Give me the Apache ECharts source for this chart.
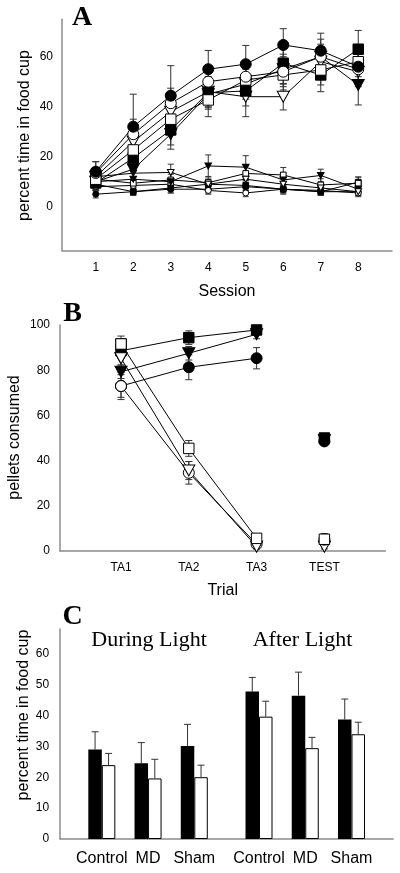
<!DOCTYPE html>
<html><head><meta charset="utf-8">
<script src="https://cdn.jsdelivr.net/npm/echarts@6/dist/echarts.min.js"></script>
<style>html,body{margin:0;padding:0;background:#fff}#c{width:400px;height:873px}</style>
</head><body><div id="c"></div>
<script>
// ---------- Panel A data ----------
const sessions = [1, 2, 3, 4, 5, 6, 7, 8];
const sessionLabels = ['1', '2', '3', '4', '5', '6', '7', '8'];
const aYTicks = [0, 20, 40, 60];
// acquiring groups (large symbols)
const accFilledCircle = [14, 32, 44.4, 55, 57, 64.7, 62.4, 56];
const accFilledCircleErr = [4, 13, 12, 7.5, 7.5, 6.5, 7, 6];
const accOpenCircle = [13.5, 29, 41.4, 50, 52, 54, 60, 55];
const accOpenCircleErr = [4.5, 6, 6, 6, 6, 6, 5, 6];
const accFilledSquare = [9.5, 19.5, 30.7, 45.6, 46.3, 57.4, 52.7, 63];
const accFilledSquareErr = [3, 5, 6, 6, 6, 6, 6.7, 7.5];
const accOpenSquare = [11, 22.7, 35, 42.7, 50.7, 52.7, 54.7, 58];
const accOpenSquareErr = [3, 5, 6, 6.7, 6, 6, 6, 6];
const accFilledTriangle = [10, 15, 29, 45, 49, 55, 60, 48.7];
const accFilledTriangleErr = [3, 4, 6, 6, 6, 6, 7, 8];
const accOpenTriangle = [12, 26, 38, 46, 44, 44, 58, 54];
const accOpenTriangleErr = [3, 5, 6, 6, 8, 5.3, 6, 6];
// non-acquiring groups (small symbols)
const flatFilledCircle = [5, 6, 7, 7, 8, 7, 6, 6];
const flatFilledCircleErr = [1.5, 1.5, 1.5, 1.5, 1.5, 1.5, 1.5, 1.5];
const flatOpenCircle = [8, 8.5, 9, 6.5, 5.5, 7, 6.5, 5.5];
const flatOpenCircleErr = [2, 2, 2, 1.5, 1.5, 1.5, 1.5, 1.5];
const flatFilledSquare = [9, 6, 7.5, 9, 8.5, 7, 6, 9.8];
const flatFilledSquareErr = [2, 1.5, 2, 2, 2, 2, 1.5, 2];
const flatOpenSquare = [11, 9.4, 10.7, 9.6, 13.3, 12.7, 8.7, 9.4];
const flatOpenSquareErr = [3, 2.5, 3, 2.5, 3, 3, 2.5, 2.5];
const flatFilledTriangle = [10, 11, 10, 16.3, 15.8, 10.7, 12.5, 7];
const flatFilledTriangleErr = [3, 3, 3, 4.4, 4.6, 3, 2.5, 2];
const flatOpenTriangle = [12, 13.4, 13.7, 9, 11, 9, 7.5, 6];
const flatOpenTriangleErr = [3, 3, 3.3, 2, 2.5, 2, 2, 1.5];

// ---------- Panel B data ----------
const trialPos = [1, 2, 3, 4];
const trialLabels = ['TA1', 'TA2', 'TA3', 'TEST'];
const bYTicks = [0, 20, 40, 60, 80, 100];
const bFilledSquare = [88.6, 94.4, 97.8, 50];
const bFilledSquareErr = [3, 3, 1.5, 1];
const bFilledTriangle = [79.3, 87.5, 95.9, 49];
const bFilledTriangleErr = [3, 3, 2, 1];
const bFilledCircle = [73, 81.3, 85.3, 48.5];
const bFilledCircleErr = [5, 5.5, 4.7, 1.5];
const bOpenSquare = [91.6, 45.4, 5.6, 5.2];
const bOpenSquareErr = [3.5, 3.5, 1.5, 2.5];
const bOpenTriangle = [85.3, 35.6, 1.9, 1.9];
const bOpenTriangleErr = [3, 4, 1, 1];
const bOpenCircle = [73, 34.6, 3, 5];
const bOpenCircleErr = [6, 5, 1, 2];

// ---------- Panel C data ----------
const groupPos = [1, 2, 3, 4.4, 5.4, 6.4];
const groupLabels = ['Control', 'MD', 'Sham', 'Control', 'MD', 'Sham'];
const cYTicks = [0, 10, 20, 30, 40, 50, 60];
const cBlack = [29.0, 24.5, 30.1, 47.7, 46.4, 38.7];
const cBlackErr = [5.7, 6.7, 7.0, 4.6, 7.6, 6.6];
const cWhite = [23.9, 19.6, 20.0, 39.6, 29.4, 33.9];
const cWhiteErr = [3.8, 6.2, 3.9, 5.0, 3.5, 3.9];

// ---------- helpers ----------
const SANS = '"Liberation Sans", Arial, sans-serif';
const SERIF = '"Liberation Serif", "Times New Roman", serif';
const near = (a, b) => Math.abs(a - b) < 1e-6;
const labelAt = (pos, labels) => v => { const i = pos.findIndex(p => near(p, v)); return i >= 0 ? String(labels[i]) : ''; };
const AXIS_COLOR = '#8c8c8c';

function xAx(grid, min, max, pos, labels, name, nameGap, fontSize, margin) {
  return {
    gridIndex: grid, type: 'value', min: min, max: max, interval: 0.1,
    axisLine: { onZero: false, lineStyle: { color: AXIS_COLOR, width: 1.5 } },
    axisTick: { show: false }, splitLine: { show: false },
    axisLabel: { formatter: labelAt(pos, labels), color: '#000', fontSize: fontSize, fontFamily: SANS, margin: margin },
    name: name, nameLocation: 'middle', nameGap: nameGap,
    nameTextStyle: { fontSize: 16, color: '#000', fontFamily: SANS }
  };
}
function yAx(grid, min, max, interval, ticks, margin) {
  return {
    gridIndex: grid, type: 'value', min: min, max: max, interval: interval,
    axisLine: { show: true, onZero: false, lineStyle: { color: AXIS_COLOR, width: 1.5 } },
    axisTick: { show: false }, splitLine: { show: false },
    axisLabel: { formatter: labelAt(ticks, ticks), color: '#000', fontSize: 12, fontFamily: SANS, margin: margin }
  };
}
function symStyle(shape, filled, size) {
  return { symbol: shape === 'tri' ? 'triangle' : (shape === 'sq' ? 'rect' : 'circle'),
    symbolSize: shape === 'tri' ? [size * 1.1, size] : (shape === 'sq' ? size * 0.95 : size),
    symbolRotate: shape === 'tri' ? 180 : 0,
    itemStyle: { color: filled ? '#000' : '#fff', borderColor: '#000', borderWidth: 1, opacity: 1 } };
}
function lineSer(grid, xs, ys, shape, filled, size) {
  return Object.assign({
    type: 'line', xAxisIndex: grid, yAxisIndex: grid,
    data: xs.map((x, i) => [x, ys[i]]),
    lineStyle: { color: '#000', width: 1 }, showSymbol: true, z: 3, silent: true
  }, symStyle(shape, filled, size));
}
function scatterSer(grid, xs, ys, shape, filled, size) {
  return Object.assign({
    type: 'scatter', xAxisIndex: grid, yAxisIndex: grid,
    data: xs.map((x, i) => [x, ys[i]]), z: 3, silent: true
  }, symStyle(shape, filled, size));
}
function errSer(grid, xs, ys, es, capW, upOnly, dx) {
  return {
    type: 'custom', xAxisIndex: grid, yAxisIndex: grid, z: 2, silent: true,
    data: xs.map((x, i) => [x, upOnly ? ys[i] : ys[i] - es[i], ys[i] + es[i]]),
    renderItem: function (params, api) {
      const x = api.value(0);
      const lo = api.coord([x, api.value(1)]);
      const hi = api.coord([x, api.value(2)]);
      const px = lo[0] + (dx || 0);
      const st = { stroke: '#333', lineWidth: 1 };
      const ch = [
        { type: 'line', shape: { x1: px, y1: lo[1], x2: px, y2: hi[1] }, style: st },
        { type: 'line', shape: { x1: px - capW / 2, y1: hi[1], x2: px + capW / 2, y2: hi[1] }, style: st }
      ];
      if (!upOnly) ch.push({ type: 'line', shape: { x1: px - capW / 2, y1: lo[1], x2: px + capW / 2, y2: lo[1] }, style: st });
      return { type: 'group', children: ch };
    }
  };
}

const series = [];
// Panel A
const aFlat = [
  [flatFilledCircle, flatFilledCircleErr, 'circ', true],
  [flatOpenCircle, flatOpenCircleErr, 'circ', false],
  [flatFilledSquare, flatFilledSquareErr, 'sq', true],
  [flatOpenSquare, flatOpenSquareErr, 'sq', false],
  [flatFilledTriangle, flatFilledTriangleErr, 'tri', true],
  [flatOpenTriangle, flatOpenTriangleErr, 'tri', false]
];
const aAcq = [
  [accFilledTriangle, accFilledTriangleErr, 'tri', true],
  [accOpenTriangle, accOpenTriangleErr, 'tri', false],
  [accFilledSquare, accFilledSquareErr, 'sq', true],
  [accOpenSquare, accOpenSquareErr, 'sq', false],
  [accOpenCircle, accOpenCircleErr, 'circ', false],
  [accFilledCircle, accFilledCircleErr, 'circ', true]
];
aFlat.forEach(d => { series.push(errSer(0, sessions, d[0], d[1], 6, false)); series.push(lineSer(0, sessions, d[0], d[2], d[3], 6)); });
aAcq.forEach(d => { series.push(errSer(0, sessions, d[0], d[1], 7, false)); series.push(lineSer(0, sessions, d[0], d[2], d[3], 11)); });

// Panel B
const bSets = [
  [bOpenCircle, bOpenCircleErr, 'circ', false],
  [bOpenTriangle, bOpenTriangleErr, 'tri', false],
  [bOpenSquare, bOpenSquareErr, 'sq', false],
  [bFilledCircle, bFilledCircleErr, 'circ', true],
  [bFilledTriangle, bFilledTriangleErr, 'tri', true],
  [bFilledSquare, bFilledSquareErr, 'sq', true]
];
bSets.forEach(d => {
  series.push(errSer(1, trialPos, d[0], d[1], 7, false));
  series.push(lineSer(1, trialPos.slice(0, 3), d[0].slice(0, 3), d[2], d[3], 11));
});
// TEST points are not connected to the training trials
[bSets[5], bSets[4], bSets[3], bSets[1], bSets[0], bSets[2]].forEach(d => {
  series.push(scatterSer(1, [trialPos[3]], [d[0][3]], d[2], d[3], 11));
});
// open symbols on top at TA1
[bSets[0], bSets[1], bSets[2]].forEach(d => {
  series.push(scatterSer(1, [trialPos[0]], [d[0][0]], d[2], d[3], 11));
});

// Panel C
const BAR_W = 13.5;
series.push({ type: 'bar', xAxisIndex: 2, yAxisIndex: 2, data: groupPos.map((x, i) => [x, cBlack[i]]),
  barWidth: BAR_W, barGap: '0%', itemStyle: { color: '#000' }, silent: true, z: 2 });
series.push({ type: 'bar', xAxisIndex: 2, yAxisIndex: 2, data: groupPos.map((x, i) => [x, cWhite[i]]),
  barWidth: BAR_W, barGap: '0%', itemStyle: { color: '#fff', borderColor: '#000', borderWidth: 1 }, silent: true, z: 2 });
series.push(errSer(2, groupPos, cBlack, cBlackErr, 7, true, -BAR_W / 2));
series.push(errSer(2, groupPos, cWhite, cWhiteErr, 7, true, BAR_W / 2));

const txt = (x, y, text, font, rot) => ({ type: 'text', x: x, y: y, rotation: rot || 0,
  style: { text: text, font: font, fill: '#000', align: 'center', verticalAlign: 'middle', textAlign: 'center', textVerticalAlign: 'middle' } });

const option = {
  animation: false,
  backgroundColor: '#fff',
  grid: [
    { left: 62, top: 19.2, width: 330, height: 231.25, containLabel: false, outerBoundsMode: 'none' },
    { left: 60, top: 325, width: 325.4, height: 226, containLabel: false, outerBoundsMode: 'none' },
    { left: 60.2, top: 628.9, width: 332.9, height: 210.1, containLabel: false, outerBoundsMode: 'none' }
  ],
  xAxis: [
    xAx(0, 0.1, 8.9, sessions, sessionLabels, 'Session', 33, 12, 11),
    xAx(1, 0.1, 4.9, trialPos, trialLabels, 'Trial', 32, 12, 11),
    xAx(2, 0.1, 7.3, groupPos, groupLabels, '', 30, 16, 12)
  ],
  yAxis: [
    yAx(0, -17.5, 75, 2.5, aYTicks, 9),
    yAx(1, 0, 100, 20, bYTicks, 10),
    yAx(2, 0, 68, 10, cYTicks, 11)
  ],
  graphic: [
    txt(82, 17.5, 'A', 'bold 28px ' + SERIF),
    txt(72.5, 314, 'B', 'bold 28px ' + SERIF),
    txt(72.5, 617, 'C', 'bold 28px ' + SERIF),
    txt(24.5, 135.5, 'percent time in food cup', '16px ' + SANS, Math.PI / 2),
    txt(15, 437.5, 'pellets consumed', '16px ' + SANS, Math.PI / 2),
    txt(23.5, 715, 'percent time in food cup', '16px ' + SANS, Math.PI / 2),
    txt(149, 640.3, 'During Light', '22px ' + SERIF),
    txt(302.5, 640.3, 'After Light', '22px ' + SERIF)
  ],
  series: series
};
const chart = echarts.init(document.getElementById('c'), null, { renderer: 'canvas', width: 400, height: 873 });
chart.setOption(option);
</script>
</body></html>
